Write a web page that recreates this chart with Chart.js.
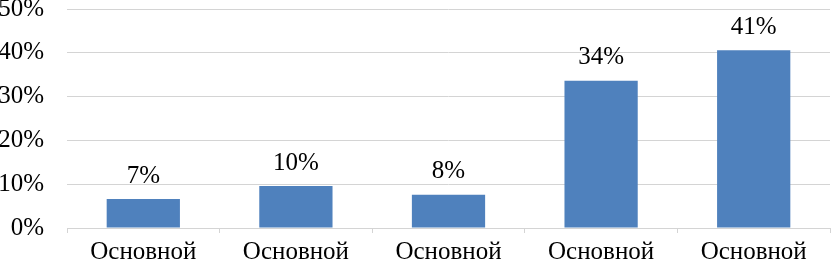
<!DOCTYPE html>
<html>
<head>
<meta charset="utf-8">
<script src="https://cdn.jsdelivr.net/npm/chart.js@4/dist/chart.umd.min.js"></script>
<style>
    html, body { margin: 0; padding: 0; background: #fff; }
    #wrap { width: 832px; height: 266px; position: relative; }
</style>
</head>
<body>
<div id="wrap"><canvas id="chart"></canvas></div>
<script>
'use strict';

const categorias = ['Основной', 'Основной', 'Основной', 'Основной', 'Основной'];
const valores = [6.6, 9.6, 7.6, 33.6, 40.6];
const rotulos = ['7%', '10%', '8%', '34%', '41%'];
const ticksY = [0, 10, 20, 30, 40, 50];

const fonte = '"Liberation Serif", "Times New Roman", serif';
const tamanho = 25;
const corTexto = '#000';
const corGrelha = '#d4d4d4';

// rótulos por cima das barras (sem plugin externo)
const rotulosPlugin = {
    id: 'rotulos',
    afterDatasetsDraw(chart) {
        const ctx = chart.ctx;
        const meta = chart.getDatasetMeta(0);
        ctx.save();
        ctx.font = `${tamanho}px ${fonte}`;
        ctx.fillStyle = corTexto;
        ctx.textAlign = 'center';
        ctx.textBaseline = 'middle';
        meta.data.forEach((bar, i) => {
            ctx.fillText(rotulos[i], bar.x, bar.y - 23);
        });
        ctx.restore();
    }
};

new Chart(document.getElementById('chart'), {
    type: 'bar',
    data: {
        labels: categorias,
        datasets: [{ data: valores, backgroundColor: '#4F81BD', categoryPercentage: 0.48, barPercentage: 1 }]
    },
    options: {
        responsive: true, maintainAspectRatio: false, animation: false,
        layout: { padding: { top: 0, right: 2, bottom: 0, left: 0 } },
        plugins: { legend: { display: false }, tooltip: { enabled: false } },
        scales: {
            x: {
                offset: true,
                grid: { offset: true, drawOnChartArea: false, drawTicks: true, tickLength: 5, color: corGrelha },
                border: { display: true, color: corGrelha },
                ticks: { color: corTexto, font: { family: fonte, size: tamanho }, padding: 4, maxRotation: 0 },
                afterFit: (axis) => { axis.height = 38; axis.paddingTop = 0; }
            },
            y: {
                min: 0, max: 50,
                afterBuildTicks: (axis) => { axis.ticks = ticksY.map(v => ({ value: v })); },
                grid: { color: corGrelha, drawTicks: false },
                border: { display: false },
                ticks: { color: corTexto, font: { family: fonte, size: tamanho }, padding: 23, callback: (v) => v + '%' },
                afterFit: (axis) => { axis.width = 67; axis.paddingTop = 9; axis.paddingBottom = 0; }
            }
        }
    },
    plugins: [rotulosPlugin]
});
</script>
</body>
</html>
